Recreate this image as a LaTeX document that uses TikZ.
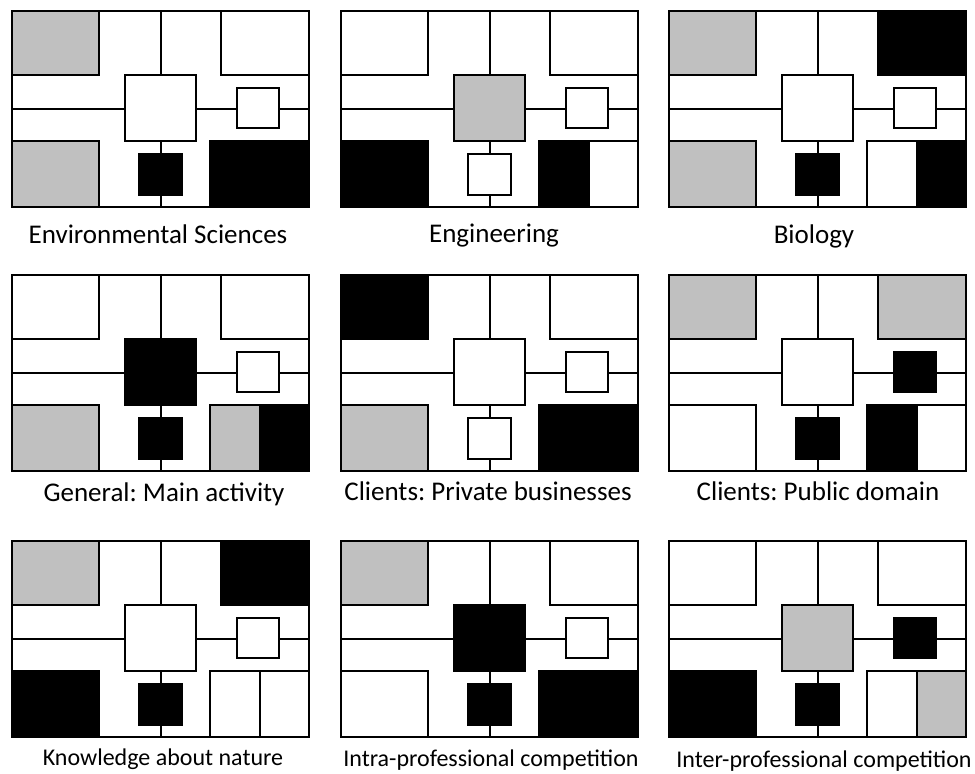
\documentclass[tikz,border=0pt]{standalone}
\usepackage{fontspec}
\setmainfont{Carlito}
\frenchspacing
\definecolor{lightgrey}{RGB}{192,192,192}

\begin{document}
\begin{tikzpicture}[x=1pt, y=-1pt, line width=2pt,
cell/.style={draw=black, line width=2pt},
caption/.style={anchor=base}]

\useasboundingbox (0,0) rectangle (975,774);

% one plan per discipline
\foreach \n/\px/\py/\lx/\ly/\fs/\tl/\tr/\c/\sr/\bl/\sb/\bra/\brb/\lab in {
 1/12/11/158/243/27/lightgrey/white/white/white/lightgrey/black/black/black/Environmental Sciences,
 2/341/11/494/242/27/white/white/lightgrey/white/black/white/black/white/Engineering,
 3/669/11/814/243/27/lightgrey/black/white/white/lightgrey/black/white/black/Biology,
 4/12/275/164/501/27/white/white/black/white/lightgrey/black/lightgrey/black/General: Main activity,
 5/341/275/488/500/27/black/white/white/white/lightgrey/white/black/black/Clients: Private businesses,
 6/669/275/818/500/27/lightgrey/lightgrey/white/black/white/black/black/white/Clients: Public domain,
 7/12/541/163/765/24/lightgrey/black/white/white/black/black/white/white/Knowledge about nature,
 8/341/541/491/766/24/lightgrey/white/black/white/white/black/black/black/Intra-professional competition,
 9/669/541/824/767/24/white/white/lightgrey/black/black/black/white/lightgrey/Inter-professional competition}
{
 \begin{scope}[shift={(\px,\py)}]
 %Frame
 \draw[cell, fill=white] (0,0) rectangle (297,196);
 %Corridors
 \draw (148.5,0) -- (148.5,196);
 \draw (0,97.5) -- (297,97.5);
 %Corner blocks
 \draw[cell, fill=\tl] (0,0) rectangle (87,64);
 \draw[cell, fill=\tr] (209,0) rectangle (297,64);
 \draw[cell, fill=\bl] (0,129.5) rectangle (87,196);
 \draw[cell, fill=\bra] (198,129.5) rectangle (247.5,196);
 \draw[cell, fill=\brb] (247.5,129.5) rectangle (297,196);
 %Rooms
 \draw[cell, fill=\c] (113,64) rectangle (184,129.5);
 \draw[cell, fill=\sr] (225,77) rectangle (267,117);
 \draw[cell, fill=\sb] (127,143) rectangle (170,183.5);
 \end{scope}
 \node[caption, font=\fontsize{\fs}{\fs}\selectfont] (lab-\n) at (\lx,\ly) {\lab};
}
\end{tikzpicture}
\end{document}
